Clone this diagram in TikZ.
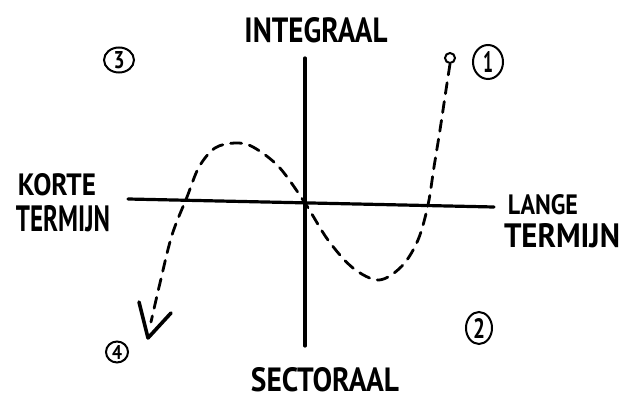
\documentclass[tikz,border=0pt]{standalone}
\usepackage{fontspec}
\setmainfont{PT Sans}
\usetikzlibrary{shapes.geometric}
\tikzset{
  axis/.style={line width=3.2pt, line cap=round},
  curve/.style={line width=2.8pt, dash pattern=on 11pt off 8pt, line cap=round},
  label/.style={inner sep=0pt, text=black, font=\bfseries},
  num/.style={ellipse, draw, line width=2pt, inner sep=0pt, font=\bfseries}
}
\newcommand{\handtxt}[3]{\resizebox{#1pt}{#2pt}{#3}}
\begin{document}
\begin{tikzpicture}[x=1pt,y=-1pt]
\useasboundingbox[fill=white] (0,0) rectangle (625,401);
% axes
\coordinate (vtop) at (305,58);
\coordinate (vbot) at (305,346);
\coordinate (hleft) at (128,199);
\coordinate (hright) at (494,207);
\draw[axis] (vtop) -- (vbot);
\draw[axis] (hleft) -- (hright);
% labels
\node[label] (integraal) at (316,30) {\handtxt{143}{25}{INTEGRAAL}};
\node[label] (sectoraal) at (325,380) {\handtxt{148}{24}{SECTORAAL}};
\node[label] (korte) at (57,185) {\handtxt{78}{22}{KORTE}};
\node[label] (termijnl) at (63,219) {\handtxt{94}{26}{TERMIJN}};
\node[label] (lange) at (543,205) {\handtxt{70}{20}{LANGE}};
\node[label] (termijnr) at (562,236) {\handtxt{116}{24}{TERMIJN}};
% numbered circles
\node[num, minimum width=30pt, minimum height=25pt] (n3) at (119,60) {\handtxt{11}{17}{3}};
\node[num, minimum width=30pt, minimum height=34pt] (n1) at (488,62) {\handtxt{10}{21}{1}};
\node[num, minimum width=26pt, minimum height=32pt] (n2) at (479,328) {\handtxt{12}{20}{2}};
\node[num, minimum width=22pt, minimum height=21pt] (n4) at (117,352) {\handtxt{10}{14}{4}};
% dashed path
\node[circle, draw, line width=2pt, minimum size=10pt, inner sep=0pt] (start) at (450,58) {};
\coordinate (tip) at (148,338);
\draw[curve] plot[smooth, tension=0.55] coordinates {(start.south) (446,90) (440,130) (434,167) (428,205) (418,240) (402,266) (379,280) (353,268) (328,240) (305,203) (279,167) (253,147) (235,143) (215,148) (199,167) (187,197) (172,235) (160,283) (151,322)};
\draw[line width=3.6pt, line cap=round, line join=round] (139,302) -- (tip) -- (171,313);
\end{tikzpicture}
\end{document}
